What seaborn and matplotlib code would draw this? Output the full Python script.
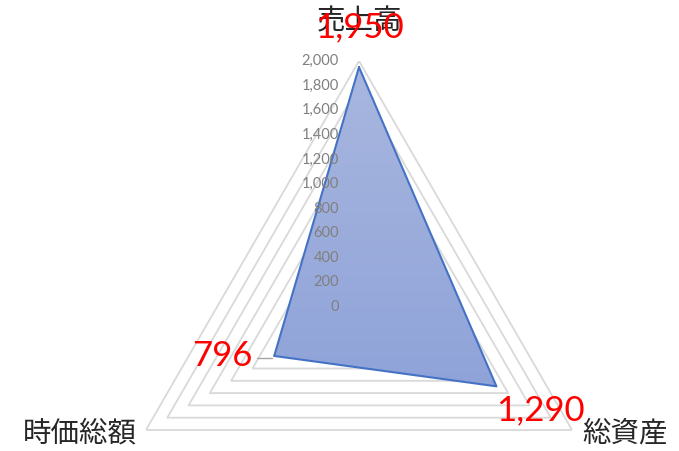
import numpy as np
import matplotlib
matplotlib.use("Agg")
import matplotlib.pyplot as plt
import matplotlib.transforms as mtransforms
from matplotlib.colors import LinearSegmentedColormap
import seaborn as sns

# data
categories = ["売上高", "総資産", "時価総額"]
values = [1950, 1290, 796]
value_labels = ["1,950", "1,290", "796"]
ring_levels = [200, 400, 600, 800, 1000, 1200, 1400, 1600, 1800, 2000]
tick_values = [0, 200, 400, 600, 800, 1000, 1200, 1400, 1600, 1800, 2000]
tick_labels = ["0", "200", "400", "600", "800", "1,000", "1,200", "1,400", "1,600", "1,800", "2,000"]

sns.set_theme(style="white")
plt.rcParams["font.family"] = ["Noto Sans CJK JP", "DejaVu Sans"]

fig = plt.figure(figsize=(6.79, 4.51), dpi=100)
ax = fig.add_axes([113 / 679, -102 / 451, 492 / 679, 492 / 451], projection="polar")
ax.set_theta_offset(np.pi / 2)
ax.set_theta_direction(-1)
ax.grid(False)
ax.spines["polar"].set_visible(False)
ax.patch.set_visible(False)
ax.set_xticks([])
ax.set_yticks([])

angles = np.linspace(0, 2 * np.pi, len(categories), endpoint=False)
closed_angles = np.append(angles, angles[0])

# grid rings
for lvl in ring_levels:
    ax.plot(closed_angles, [lvl] * len(closed_angles), color="#d9d9d9", lw=1.3, zorder=1)

# series polygon with gradient fill
closed_vals = values + values[:1]
poly = ax.fill(closed_angles, closed_vals, facecolor="none", edgecolor="none")[0]
cmap = LinearSegmentedColormap.from_list("grad", ["#a9b7df", "#8299d6"])
grad = np.linspace(0, 1, 256).reshape(-1, 1)
im = ax.imshow(grad, cmap=cmap, extent=[0, 1, 0, 1], transform=ax.transAxes,
               aspect="auto", origin="upper", zorder=2)
im.set_clip_path(poly)
ax.plot(closed_angles, closed_vals, color="#4472c4", lw=1.5, zorder=3)
ax.set_ylim(0, 2000)

# value axis labels
tick_tr = mtransforms.offset_copy(ax.transData, fig=fig, x=-20, y=0, units="dots")
for v, lab in zip(tick_values, tick_labels):
    ax.text(0, v, lab, transform=tick_tr, ha="right", va="center",
            fontsize=10.5, color="#808080", family="Lato", zorder=4)

# category labels
cat_offsets = [(0, 40, "center"), (10, -3, "left"), (-9, -3, "right")]
for ang, name, (dx, dy, ha) in zip(angles, categories, cat_offsets):
    tr = mtransforms.offset_copy(ax.transData, fig=fig, x=dx, y=dy, units="dots")
    ax.text(ang, 2000, name, transform=tr, ha=ha, va="center",
            fontsize=20.5, color="#262626", zorder=5)

# data labels
lab_offsets = [(0, 40, "center"), (0, -24, "left"), (-22, 0, "right")]
for ang, v, lab, (dx, dy, ha) in zip(angles, values, value_labels, lab_offsets):
    tr = mtransforms.offset_copy(ax.transData, fig=fig, x=dx, y=dy, units="dots")
    ax.text(ang, v, lab, transform=tr, ha=ha, va="center",
            fontsize=25, color="#ff0000", family="Lato", zorder=6)

# leader line for the left label
lead_tr = mtransforms.offset_copy(ax.transData, fig=fig, x=-20, y=-2, units="dots")
ax.annotate("", xy=(angles[2], values[2]), xytext=(angles[2], values[2]),
            textcoords=lead_tr,
            arrowprops=dict(arrowstyle="-", color="#a6a6a6", lw=1.0,
                            connectionstyle="angle,angleA=0,angleB=90,rad=0"))

fig.savefig("out.png", dpi=100)
